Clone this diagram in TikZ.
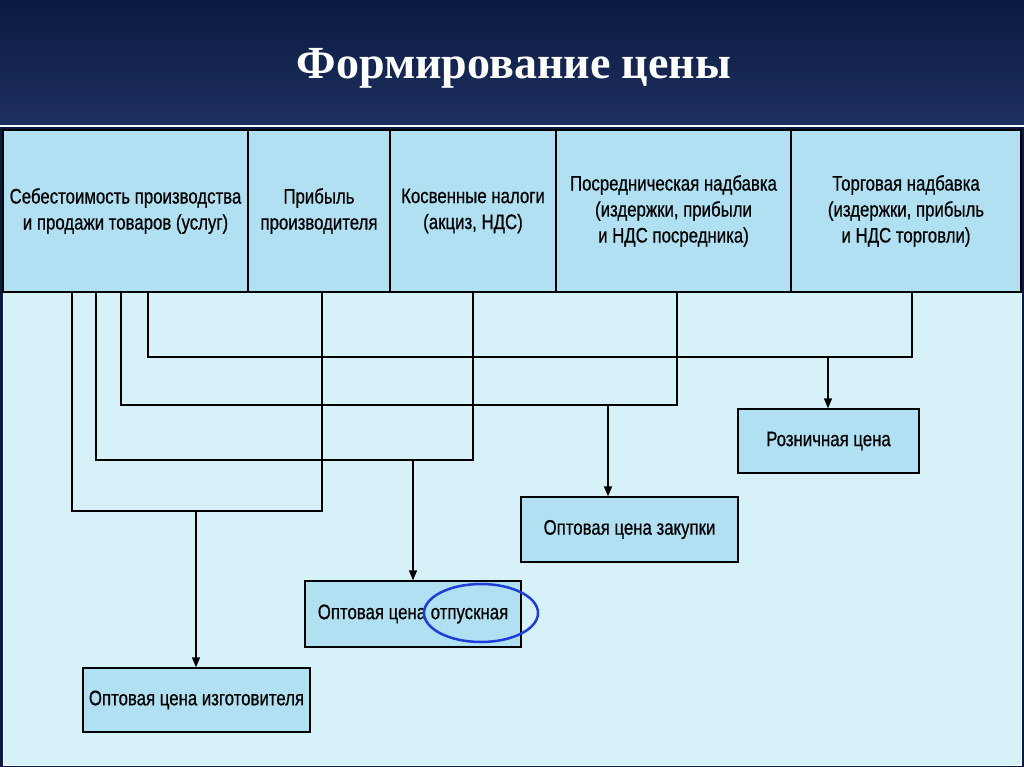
\documentclass[tikz,border=0pt]{standalone}
\usepackage{fontspec}
\setmainfont{Liberation Serif}
\newfontfamily\cond[FakeStretch=0.8,FakeBold=0.6]{Liberation Sans}
\usetikzlibrary{arrows.meta}
\definecolor{navy}{HTML}{0A1A40}
\definecolor{navytop}{HTML}{1E3060}
\definecolor{panel}{HTML}{D6F1F8}
\definecolor{head}{HTML}{B0E0F2}
\definecolor{ovalblue}{HTML}{1E3ED8}
\tikzset{
  hcell/.style={draw=black,line width=1.3pt,fill=head,font=\cond\fontsize{21}{26}\selectfont,align=center,inner sep=0pt},
  pbox/.style={draw=black,line width=1.3pt,fill=head,font=\cond\fontsize{21}{26}\selectfont,align=center,inner sep=0pt},
  ln/.style={black,line width=1.5pt},
  ar/.style={ln,-{Triangle[length=10pt,width=8pt]}}
}
\begin{document}
\begin{tikzpicture}[x=1pt,y=-1pt]
\useasboundingbox (0,0) rectangle (1024,767);
\shade[top color=navy,bottom color=navytop] (0,0) rectangle (1024,125);
\fill[navy] (0,125) rectangle (1024,767);
\draw[white,line width=1.5pt] (0,126) -- (1024,126);
\node (title) [font=\bfseries\fontsize{46}{52}\selectfont,text=white] at (514,68) {Формирование цены};
\fill[panel] (3,130) rectangle (1021,765);
\draw[white,line width=1pt] (3,130) rectangle (1021,765);
% header cells
\node (h1) [hcell,minimum width=245,minimum height=162] at (125.5,211) {Себестоимость производства\\и продажи товаров (услуг)};
\node (h2) [hcell,minimum width=142,minimum height=162] at (319,211) {Прибыль\\производителя};
\node (h3) [hcell,minimum width=166,minimum height=162] at (473,211) {Косвенные налоги\\(акциз, НДС)};
\node (h4) [hcell,minimum width=235,minimum height=162] at (673.5,211) {Посредническая надбавка\\(издержки, прибыли\\и НДС посредника)};
\node (h5) [hcell,minimum width=230,minimum height=162] at (906,211) {Торговая надбавка\\(издержки, прибыль\\и НДС торговли)};
% price boxes
\node (b1) [pbox,minimum width=227,minimum height=64] at (196.5,700) {Оптовая цена изготовителя};
\node (b2) [pbox,minimum width=216,minimum height=66] at (413,614) {Оптовая цена отпускная};
\node (b3) [pbox,minimum width=217,minimum height=65] at (629.5,529.5) {Оптовая цена закупки};
\node (b4) [pbox,minimum width=181,minimum height=64] at (828.5,441) {Розничная цена};
% connectors
\coordinate (j1) at (196,511);
\coordinate (j2) at (413,460);
\coordinate (j3) at (608,405);
\coordinate (j4) at (828,357);
\draw[ln] (h1.south -| 72,0) |- (j1) -| (h2.south -| 322,0);
\draw[ln] (h1.south -| 96,0) |- (j2) -| (h3.south);
\draw[ln] (h1.south -| 121,0) |- (j3) -| (h4.south -| 677,0);
\draw[ln] (h1.south -| 148,0) |- (j4) -| (h5.south -| 912,0);
\draw[ar] (j1) -- (b1.north -| j1);
\draw[ar] (j2) -- (b2.north -| j2);
\draw[ar] (j3) -- (b3.north -| j3);
\draw[ar] (j4) -- (b4.north -| j4);
\draw[ovalblue,line width=2.5pt] (481,613) ellipse [x radius=57,y radius=29];
\end{tikzpicture}
\end{document}
